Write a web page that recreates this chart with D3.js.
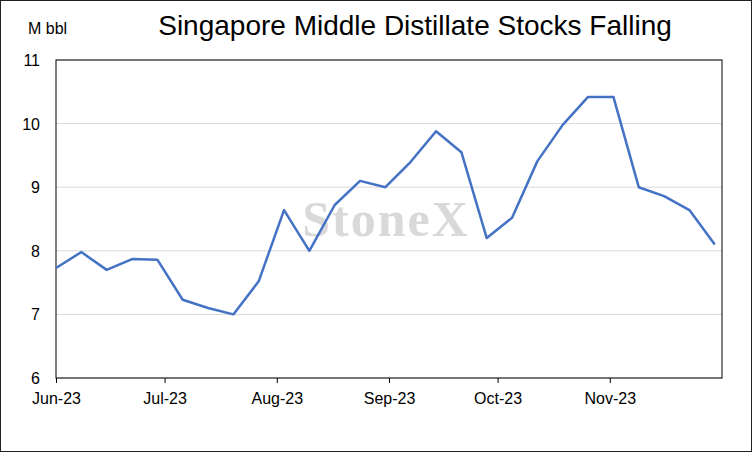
<!DOCTYPE html>
<head>
<meta charset="utf-8">
<script src="https://cdn.jsdelivr.net/npm/d3@7"></script>
<style>
  body { margin: 0; background: #fff; }
  text { font-family: "Liberation Sans", Arial, sans-serif; }
</style>
</head>
<body>
<svg width="752" height="452"></svg>
<script>
var startDate = new Date(2023, 5, 1);
var stocks = [7.73, 7.98, 7.70, 7.87, 7.86, 7.23, 7.10, 7.00, 7.52, 8.64, 8.00, 8.72, 9.10, 9.00,
              9.40, 9.88, 9.55, 8.20, 8.52, 9.41, 9.98, 10.42, 10.42, 9.00, 8.86, 8.64, 8.10];
var yTicks = [6, 7, 8, 9, 10, 11];
var monthLabels = ["Jun-23", "Jul-23", "Aug-23", "Sep-23", "Oct-23", "Nov-23"];

var data = stocks.map(function(v, i) {
  return { date: d3.timeDay.offset(startDate, i * 7), value: v };
});

var svg = d3.select("svg");
var margin = { left: 56, right: 30, top: 60, bottom: 74 };
var width = 752, height = 452;

svg.append("rect").attr("x", 0.5).attr("y", 0.5).attr("width", 751).attr("height", 451)
  .attr("fill", "#fff").attr("stroke", "#222");

var x = d3.scaleTime()
  .domain([startDate, d3.timeDay.offset(data[data.length - 1].date, 2)])
  .range([margin.left, width - margin.right]);
var y = d3.scaleLinear().domain([6, 11]).range([height - margin.bottom, margin.top]);

// gridlines
svg.append("g").selectAll("line").data(yTicks).enter().append("line")
  .attr("x1", margin.left).attr("x2", width - margin.right)
  .attr("y1", function(d) { return y(d); }).attr("y2", function(d) { return y(d); })
  .attr("stroke", "#d9d9d9");

// watermark
svg.append("text").attr("x", 386).attr("y", 236).attr("text-anchor", "middle")
  .style("font-family", "Liberation Serif, serif")
  .attr("font-size", 50).attr("font-weight", "bold").attr("fill", "#d9d9d9")
  .attr("letter-spacing", 2).text("StoneX");

// plot border
svg.append("rect").attr("x", margin.left).attr("y", margin.top)
  .attr("width", width - margin.right - margin.left)
  .attr("height", height - margin.bottom - margin.top)
  .attr("fill", "none").attr("stroke", "#000");

// y labels
svg.append("g").selectAll("text").data(yTicks).enter().append("text")
  .attr("x", 40).attr("y", function(d) { return y(d) + 6; })
  .attr("text-anchor", "end").attr("font-size", 16).text(function(d) { return d; });

// x axis
var months = d3.timeMonth.range(startDate, d3.timeMonth.offset(startDate, 6));
var xAxis = svg.append("g")
  .attr("transform", "translate(0," + (height - margin.bottom) + ")")
  .call(d3.axisBottom(x).tickValues(months).tickSize(5)
    .tickFormat(function(d, i) { return monthLabels[i]; }));
xAxis.select(".domain").remove();
xAxis.selectAll("text").attr("font-size", 16).attr("dy", "1.1em")
  .style("font-family", "Liberation Sans, Arial, sans-serif").attr("fill", "#000");
xAxis.selectAll("line").attr("stroke", "#000");

// line
svg.append("path").datum(data)
  .attr("fill", "none").attr("stroke", "#4472C4").attr("stroke-width", 2.5)
  .attr("stroke-linejoin", "round")
  .attr("d", d3.line().x(function(d) { return x(d.date); }).y(function(d) { return y(d.value); }));

// title and unit
svg.append("text").attr("x", 415).attr("y", 35).attr("text-anchor", "middle")
  .attr("font-size", 28).text("Singapore Middle Distillate Stocks Falling");
svg.append("text").attr("x", 28).attr("y", 34).attr("font-size", 16).text("M bbl");
</script>
</body>
